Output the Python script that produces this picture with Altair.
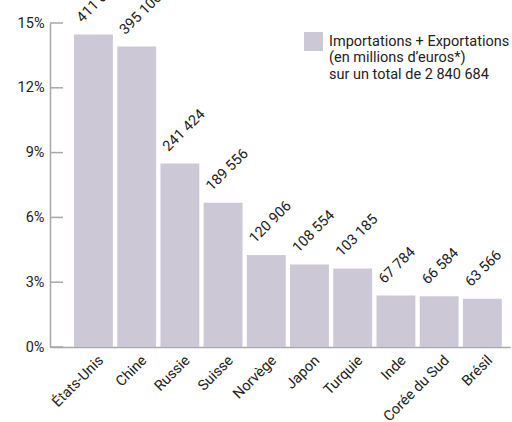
import altair as alt
import pandas as pd

pays = ["États-Unis", "Chine", "Russie", "Suisse", "Norvège", "Japon",
        "Turquie", "Inde", "Corée du Sud", "Brésil"]
valeurs = [411046, 395106, 241424, 189556, 120906, 108554, 103185, 67784, 66584, 63566]
total = 2840684
ticks_y = [0, 0.03, 0.06, 0.09, 0.12, 0.15]
serie = ["Importations + Exportations"] * len(pays)
legende = ["Importations + Exportations", "(en millions d’euros*)", "sur un total de 2 840 684"]

FONT = "Roboto"
FS = 14.5
BAR = "#cdc8d6"
TXT = "#222222"
AX = "#a8a8a8"

df = pd.DataFrame({"pays": pays, "valeur": valeurs, "serie": serie})
ticks_df = pd.DataFrame({"part": ticks_y})

yscale = alt.Scale(domain=[0, 0.15], nice=False, zero=True)

base = alt.Chart(df).transform_calculate(
    part=f"datum.valeur / {total}",
    etiquette="replace(format(datum.valeur, ','), ',', ' ')",
)

x = alt.X(
    "pays:N", sort=pays,
    scale=alt.Scale(paddingInner=0.1, paddingOuter=0.373, align=0.745),
    axis=alt.Axis(title=None, labelAngle=315, labelAlign="right", labelBaseline="middle",
                  labelPadding=11, labelOffset=8, ticks=False, domainColor=AX, domainWidth=1.5,
                  labelFont=FONT, labelFontSize=FS, labelColor=TXT),
)
y = alt.Y(
    "part:Q", scale=yscale,
    axis=alt.Axis(values=ticks_y, format=".0%", title=None, ticks=False, labelPadding=6,
                  domainColor=AX, domainWidth=1.5, grid=False,
                  labelFont=FONT, labelFontSize=FS, labelColor=TXT),
)

legend_expr = "[" + ", ".join("'" + s + "'" for s in legende) + "]"

bars = base.mark_bar().encode(
    x=x, y=y,
    color=alt.Color("serie:N", scale=alt.Scale(range=[BAR]),
                    legend=alt.Legend(orient="none", legendX=254, legendY=9, title=None,
                                      symbolType="square", symbolSize=361, symbolStrokeWidth=0,
                                      labelFont=FONT, labelFontSize=FS, labelColor=TXT,
                                      labelExpr=legend_expr, labelLimit=400, labelOffset=6,
                                      padding=0)),
)

labels = base.mark_text(angle=315, align="left", baseline="alphabetic", dx=0, dy=-16,
                        font=FONT, fontSize=FS, color=TXT).encode(
    x=x, y=y, text="etiquette:N")

yticks = alt.Chart(ticks_df).mark_rule(color=AX, strokeWidth=1.5).encode(
    y=y,
    x=alt.value(0), x2=alt.value(13),
)

chart = alt.layer(bars, yticks, labels).properties(
    width=460, height=324,
    autosize=alt.AutoSizeParams(type="none"),
    padding={"left": 50, "top": 23, "right": 2, "bottom": 75},
).configure_view(stroke=None)

chart.save("out.html", embed_options={"renderer": "svg", "actions": False})
